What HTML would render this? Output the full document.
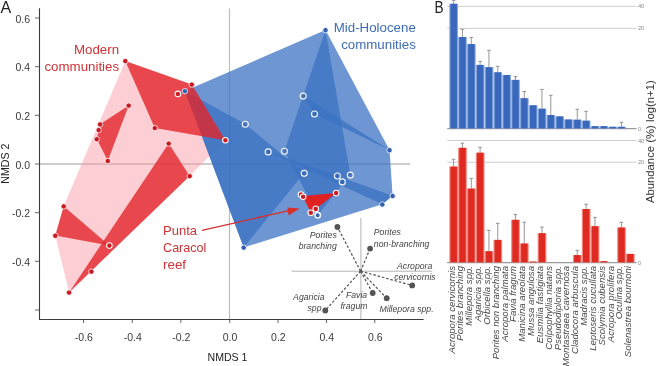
<!DOCTYPE html>
<html><head><meta charset="utf-8"><style>
html,body{margin:0;padding:0;background:#fff;width:658px;height:366px;overflow:hidden}
svg{display:block;will-change:transform}
text{-webkit-font-smoothing:antialiased}
</style></head><body>
<svg width="658" height="366" viewBox="0 0 658 366">
<rect width="658" height="366" fill="#fff"/>
<line x1="39" y1="164" x2="410" y2="164" stroke="#bcbcbc" stroke-width="1.3"/>
<line x1="229.5" y1="8.5" x2="229.5" y2="319" stroke="#bcbcbc" stroke-width="1.2"/>
<polygon points="125.3,60.9 191.8,84.4 225.4,140.2 189.7,175.9 69.1,292.4 55.3,235.6 63.7,206.2" fill="rgba(250,150,162,0.46)" />
<polygon points="184.9,91.0 325.5,30.0 389.5,150.0 392.6,195.8 382.3,204.3 243.7,247.4" fill="rgba(58,113,194,0.74)" />
<polygon points="184.9,91.0 245.3,123.9 304.2,173.0 243.7,247.4" fill="rgba(58,113,194,0.74)" />
<polygon points="325.5,30.0 350.3,174.8 317.7,215.1 284.4,150.9" fill="rgba(58,113,194,0.74)" />
<polygon points="303.2,95.8 389.5,150.0 314.5,113.7" fill="rgba(58,113,194,0.74)" />
<polygon points="268.2,151.6 392.6,195.8 382.3,204.3" fill="rgba(58,113,194,0.74)" />
<polygon points="125.3,60.9 191.8,84.4 225.4,140.2 154.8,127.9" fill="rgba(226,38,42,0.8)" />
<polygon points="100.1,124.2 128.7,105.4 107.8,160.8 96.8,139.0 98.7,129.9" fill="rgba(226,38,42,0.8)" />
<polygon points="168.7,143.4 189.7,175.9 69.1,292.4" fill="rgba(226,38,42,0.8)" />
<polygon points="63.7,206.2 55.3,235.6 109.4,245.6" fill="rgba(226,38,42,0.8)" />
<polygon points="302.5,196.0 336.1,193.1 311.0,212.7" fill="rgba(232,28,24,0.95)" />
<circle cx="125.3" cy="61.1" r="2.7" fill="#c81a22" stroke="#fff" stroke-width="0.9" stroke-opacity="0.85"/>
<circle cx="191.8" cy="84.60000000000001" r="2.7" fill="#c81a22" stroke="#fff" stroke-width="0.9" stroke-opacity="0.85"/>
<circle cx="154.8" cy="128.1" r="2.7" fill="#c81a22" stroke="#fff" stroke-width="0.9" stroke-opacity="0.85"/>
<circle cx="128.7" cy="105.60000000000001" r="2.7" fill="#c81a22" stroke="#fff" stroke-width="0.9" stroke-opacity="0.85"/>
<circle cx="100.1" cy="124.4" r="2.7" fill="#c81a22" stroke="#fff" stroke-width="0.9" stroke-opacity="0.85"/>
<circle cx="98.7" cy="130.1" r="2.7" fill="#c81a22" stroke="#fff" stroke-width="0.9" stroke-opacity="0.85"/>
<circle cx="96.8" cy="139.2" r="2.7" fill="#c81a22" stroke="#fff" stroke-width="0.9" stroke-opacity="0.85"/>
<circle cx="107.8" cy="161.0" r="2.7" fill="#c81a22" stroke="#fff" stroke-width="0.9" stroke-opacity="0.85"/>
<circle cx="168.7" cy="143.6" r="2.7" fill="#c81a22" stroke="#fff" stroke-width="0.9" stroke-opacity="0.85"/>
<circle cx="189.7" cy="176.1" r="2.7" fill="#c81a22" stroke="#fff" stroke-width="0.9" stroke-opacity="0.85"/>
<circle cx="63.7" cy="206.39999999999998" r="2.7" fill="#c81a22" stroke="#fff" stroke-width="0.9" stroke-opacity="0.85"/>
<circle cx="55.3" cy="235.79999999999998" r="2.7" fill="#c81a22" stroke="#fff" stroke-width="0.9" stroke-opacity="0.85"/>
<circle cx="91.4" cy="271.59999999999997" r="2.7" fill="#c81a22" stroke="#fff" stroke-width="0.9" stroke-opacity="0.85"/>
<circle cx="69.1" cy="292.59999999999997" r="2.7" fill="#c81a22" stroke="#fff" stroke-width="0.9" stroke-opacity="0.85"/>
<circle cx="184.9" cy="91.2" r="2.7" fill="#3461ad" stroke="#fff" stroke-width="0.9" stroke-opacity="0.85"/>
<circle cx="325.5" cy="30.2" r="2.7" fill="#3461ad" stroke="#fff" stroke-width="0.9" stroke-opacity="0.85"/>
<circle cx="389.5" cy="150.2" r="2.7" fill="#3461ad" stroke="#fff" stroke-width="0.9" stroke-opacity="0.85"/>
<circle cx="392.6" cy="196.0" r="2.7" fill="#3461ad" stroke="#fff" stroke-width="0.9" stroke-opacity="0.85"/>
<circle cx="382.3" cy="204.5" r="2.7" fill="#3461ad" stroke="#fff" stroke-width="0.9" stroke-opacity="0.85"/>
<circle cx="243.7" cy="247.6" r="2.7" fill="#3461ad" stroke="#fff" stroke-width="0.9" stroke-opacity="0.85"/>
<circle cx="245.3" cy="124.2" r="3.0" fill="rgba(45,80,160,0.35)" stroke="#fff" stroke-width="1.15" stroke-opacity="0.95"/>
<circle cx="268.2" cy="151.9" r="3.0" fill="rgba(45,80,160,0.35)" stroke="#fff" stroke-width="1.15" stroke-opacity="0.95"/>
<circle cx="284.4" cy="151.20000000000002" r="3.0" fill="rgba(45,80,160,0.35)" stroke="#fff" stroke-width="1.15" stroke-opacity="0.95"/>
<circle cx="303.2" cy="96.1" r="3.0" fill="rgba(45,80,160,0.35)" stroke="#fff" stroke-width="1.15" stroke-opacity="0.95"/>
<circle cx="314.5" cy="114.0" r="3.0" fill="rgba(45,80,160,0.35)" stroke="#fff" stroke-width="1.15" stroke-opacity="0.95"/>
<circle cx="304.2" cy="173.3" r="3.0" fill="rgba(45,80,160,0.35)" stroke="#fff" stroke-width="1.15" stroke-opacity="0.95"/>
<circle cx="337.4" cy="176.0" r="3.0" fill="rgba(45,80,160,0.35)" stroke="#fff" stroke-width="1.15" stroke-opacity="0.95"/>
<circle cx="342.3" cy="181.9" r="3.0" fill="rgba(45,80,160,0.35)" stroke="#fff" stroke-width="1.15" stroke-opacity="0.95"/>
<circle cx="350.3" cy="175.10000000000002" r="3.0" fill="rgba(45,80,160,0.35)" stroke="#fff" stroke-width="1.15" stroke-opacity="0.95"/>
<circle cx="317.7" cy="215.2" r="2.7" fill="#3461ad" stroke="#fff" stroke-width="1.4"/>
<circle cx="177.9" cy="93.9" r="2.8" fill="#cc1f24" stroke="#fff" stroke-width="1.05"/>
<circle cx="225.4" cy="140.2" r="2.8" fill="#cc1f24" stroke="#fff" stroke-width="1.05"/>
<circle cx="109.4" cy="245.6" r="2.8" fill="#cc1f24" stroke="#fff" stroke-width="1.05"/>
<circle cx="301" cy="194.6" r="2.8" fill="#cc1f24" stroke="#fff" stroke-width="1.05"/>
<circle cx="303.1" cy="196.7" r="2.8" fill="#cc1f24" stroke="#fff" stroke-width="1.05"/>
<circle cx="336.1" cy="193.1" r="2.8" fill="#cc1f24" stroke="#fff" stroke-width="1.05"/>
<circle cx="315.8" cy="208.9" r="2.8" fill="#cc1f24" stroke="#fff" stroke-width="1.05"/>
<circle cx="310.8" cy="212.7" r="2.8" fill="#cc1f24" stroke="#fff" stroke-width="1.05"/>
<line x1="202" y1="230.4" x2="290" y2="210.4" stroke="#d3302f" stroke-width="1.4"/>
<polygon points="299.6,208.4 287.4,207.5 288.6,215.4" fill="#d9302c"/>
<line x1="291.5" y1="271.2" x2="432.3" y2="271.2" stroke="#aaa" stroke-width="0.9"/>
<line x1="360.9" y1="218" x2="360.9" y2="319" stroke="#aaa" stroke-width="0.9"/>
<line x1="360.6" y1="271.2" x2="337.4" y2="227" stroke="#555" stroke-width="1.2" stroke-dasharray="2.6,1.8"/>
<circle cx="337.4" cy="227" r="2.9" fill="#555"/>
<line x1="360.6" y1="271.2" x2="370.1" y2="248.6" stroke="#555" stroke-width="1.2" stroke-dasharray="2.6,1.8"/>
<circle cx="370.1" cy="248.6" r="2.9" fill="#555"/>
<line x1="360.6" y1="271.2" x2="412.2" y2="285.4" stroke="#555" stroke-width="1.2" stroke-dasharray="2.6,1.8"/>
<circle cx="412.2" cy="285.4" r="2.9" fill="#555"/>
<line x1="360.6" y1="271.2" x2="386.7" y2="298.2" stroke="#555" stroke-width="1.2" stroke-dasharray="2.6,1.8"/>
<circle cx="386.7" cy="298.2" r="2.9" fill="#555"/>
<line x1="360.6" y1="271.2" x2="372.7" y2="293" stroke="#555" stroke-width="1.2" stroke-dasharray="2.6,1.8"/>
<circle cx="372.7" cy="293" r="2.9" fill="#555"/>
<line x1="360.6" y1="271.2" x2="325.3" y2="310.5" stroke="#555" stroke-width="1.2" stroke-dasharray="2.6,1.8"/>
<circle cx="325.3" cy="310.5" r="2.9" fill="#555"/>
<circle cx="360.6" cy="271.2" r="1.3" fill="#555"/>
<text x="336.8" y="238" text-anchor="end" font-family="Liberation Sans" font-style="italic" font-size="8.7" fill="#444">Porites</text>
<text x="336.8" y="249" text-anchor="end" font-family="Liberation Sans" font-style="italic" font-size="8.7" fill="#444">branching</text>
<text x="373.8" y="234.6" text-anchor="start" font-family="Liberation Sans" font-style="italic" font-size="8.7" fill="#444">Porites</text>
<text x="373.8" y="246.8" text-anchor="start" font-family="Liberation Sans" font-style="italic" font-size="8.7" fill="#444">non-branching</text>
<text x="432.3" y="269.3" text-anchor="end" font-family="Liberation Sans" font-style="italic" font-size="8.7" fill="#444">Acropora</text>
<text x="435.7" y="279.9" text-anchor="end" font-family="Liberation Sans" font-style="italic" font-size="8.7" fill="#444">cervicornis</text>
<text x="324.5" y="299.6" text-anchor="end" font-family="Liberation Sans" font-style="italic" font-size="8.7" fill="#444">Agaricia</text>
<text x="321.5" y="310.6" text-anchor="end" font-family="Liberation Sans" font-style="italic" font-size="8.7" fill="#444">spp</text>
<text x="367.2" y="297.7" text-anchor="end" font-family="Liberation Sans" font-style="italic" font-size="8.7" fill="#444">Favia</text>
<text x="367.5" y="308.8" text-anchor="end" font-family="Liberation Sans" font-style="italic" font-size="8.7" fill="#444">fragum</text>
<text x="433.6" y="311.8" text-anchor="end" font-family="Liberation Sans" font-style="italic" font-size="8.7" fill="#444">Millepora spp.</text>
<line x1="39.5" y1="8.2" x2="39.5" y2="320" stroke="#3c3c3c" stroke-width="1.1"/>
<line x1="39" y1="319.5" x2="423.7" y2="319.5" stroke="#3c3c3c" stroke-width="1.1"/>
<line x1="35" y1="18" x2="39.2" y2="18" stroke="#666" stroke-width="1.0"/>
<text x="30.0" y="22.6" text-anchor="end" font-family="Liberation Sans" font-size="10.5" fill="#3a3a3a">0.6</text>
<line x1="35" y1="66.7" x2="39.2" y2="66.7" stroke="#666" stroke-width="1.0"/>
<text x="30.0" y="71.3" text-anchor="end" font-family="Liberation Sans" font-size="10.5" fill="#3a3a3a">0.4</text>
<line x1="35" y1="115.3" x2="39.2" y2="115.3" stroke="#666" stroke-width="1.0"/>
<text x="30.0" y="119.89999999999999" text-anchor="end" font-family="Liberation Sans" font-size="10.5" fill="#3a3a3a">0.2</text>
<line x1="35" y1="164" x2="39.2" y2="164" stroke="#666" stroke-width="1.0"/>
<text x="30.0" y="168.6" text-anchor="end" font-family="Liberation Sans" font-size="10.5" fill="#3a3a3a">0.0</text>
<line x1="35" y1="212.7" x2="39.2" y2="212.7" stroke="#666" stroke-width="1.0"/>
<text x="30.0" y="217.29999999999998" text-anchor="end" font-family="Liberation Sans" font-size="10.5" fill="#3a3a3a">-0.2</text>
<line x1="35" y1="261.3" x2="39.2" y2="261.3" stroke="#666" stroke-width="1.0"/>
<text x="30.0" y="265.90000000000003" text-anchor="end" font-family="Liberation Sans" font-size="10.5" fill="#3a3a3a">-0.4</text>
<line x1="35" y1="310" x2="39.2" y2="310" stroke="#666" stroke-width="1.0"/>
<line x1="83.5" y1="320" x2="83.5" y2="323" stroke="#666" stroke-width="1.0"/>
<text x="83.9" y="340.6" text-anchor="middle" font-family="Liberation Sans" font-size="10.5" fill="#3a3a3a">-0.6</text>
<line x1="132.3" y1="320" x2="132.3" y2="323" stroke="#666" stroke-width="1.0"/>
<text x="132.70000000000002" y="340.6" text-anchor="middle" font-family="Liberation Sans" font-size="10.5" fill="#3a3a3a">-0.4</text>
<line x1="180.8" y1="320" x2="180.8" y2="323" stroke="#666" stroke-width="1.0"/>
<text x="181.20000000000002" y="340.6" text-anchor="middle" font-family="Liberation Sans" font-size="10.5" fill="#3a3a3a">-0.2</text>
<line x1="229.7" y1="320" x2="229.7" y2="323" stroke="#666" stroke-width="1.0"/>
<text x="230.1" y="340.6" text-anchor="middle" font-family="Liberation Sans" font-size="10.5" fill="#3a3a3a">0.0</text>
<line x1="278" y1="320" x2="278" y2="323" stroke="#666" stroke-width="1.0"/>
<text x="278.4" y="340.6" text-anchor="middle" font-family="Liberation Sans" font-size="10.5" fill="#3a3a3a">0.2</text>
<line x1="326.4" y1="320" x2="326.4" y2="323" stroke="#666" stroke-width="1.0"/>
<text x="326.79999999999995" y="340.6" text-anchor="middle" font-family="Liberation Sans" font-size="10.5" fill="#3a3a3a">0.4</text>
<line x1="374.8" y1="320" x2="374.8" y2="323" stroke="#666" stroke-width="1.0"/>
<text x="375.2" y="340.6" text-anchor="middle" font-family="Liberation Sans" font-size="10.5" fill="#3a3a3a">0.6</text>
<text x="227.5" y="361.2" text-anchor="middle" font-family="Liberation Sans" font-size="10.6" fill="#222">NMDS 1</text>
<text transform="translate(9.4,163.7) rotate(-90)" text-anchor="middle" font-family="Liberation Sans" font-size="10.6" fill="#222">NMDS 2</text>
<text x="0.6" y="13.3" font-family="Liberation Sans" font-size="16" fill="#222">A</text>
<text x="119.1" y="54.1" text-anchor="end" font-family="Liberation Sans" font-size="13.3" fill="#cf3236">Modern</text>
<text x="119.1" y="70.5" text-anchor="end" font-family="Liberation Sans" font-size="13.3" fill="#cf3236">communities</text>
<text x="415.8" y="32.2" text-anchor="end" font-family="Liberation Sans" font-size="13.3" fill="#3e6db4">Mid-Holocene</text>
<text x="415.8" y="48.8" text-anchor="end" font-family="Liberation Sans" font-size="13.3" fill="#3e6db4">communities</text>
<text x="163.1" y="235.1" text-anchor="start" font-family="Liberation Sans" font-size="13.3" fill="#cf3236" textLength="34" lengthAdjust="spacingAndGlyphs">Punta</text>
<text x="163.1" y="252.3" text-anchor="start" font-family="Liberation Sans" font-size="13.3" fill="#cf3236" textLength="43.2" lengthAdjust="spacingAndGlyphs">Caracol</text>
<text x="163.1" y="269.2" text-anchor="start" font-family="Liberation Sans" font-size="13.3" fill="#cf3236">reef</text>
<text x="434.6" y="13.3" font-family="Liberation Sans" font-size="16" fill="#222" textLength="9.1" lengthAdjust="spacingAndGlyphs">B</text>
<line x1="447.2" y1="6.4" x2="636.5" y2="6.4" stroke="#c8c8c8" stroke-width="0.9"/>
<line x1="447.2" y1="28.4" x2="636.5" y2="28.4" stroke="#c8c8c8" stroke-width="0.9"/>
<line x1="447.2" y1="140.5" x2="636.5" y2="140.5" stroke="#c8c8c8" stroke-width="0.9"/>
<line x1="447.2" y1="162.2" x2="636.5" y2="162.2" stroke="#c8c8c8" stroke-width="0.9"/>
<line x1="447.2" y1="128.7" x2="636.5" y2="128.7" stroke="#999" stroke-width="1.3"/>
<line x1="447.2" y1="262.6" x2="636.5" y2="262.6" stroke="#999" stroke-width="1.3"/>
<text x="638" y="8.4" text-anchor="start" font-family="Liberation Sans" font-size="5.6" fill="#888">40</text>
<text x="638" y="30.4" text-anchor="start" font-family="Liberation Sans" font-size="5.6" fill="#888">20</text>
<text x="638" y="130.7" text-anchor="start" font-family="Liberation Sans" font-size="5.6" fill="#888">0</text>
<text x="638" y="142.5" text-anchor="start" font-family="Liberation Sans" font-size="5.6" fill="#888">40</text>
<text x="638" y="164.2" text-anchor="start" font-family="Liberation Sans" font-size="5.6" fill="#888">20</text>
<text x="638" y="264.6" text-anchor="start" font-family="Liberation Sans" font-size="5.6" fill="#888">0</text>
<rect x="449.30" y="3.8" width="8.7" height="124.60" fill="#86a8dd"/>
<rect x="450.50" y="3.8" width="6.4" height="124.60" fill="#3867bb"/>
<line x1="453.60" y1="3.8" x2="453.60" y2="0.3" stroke="#8a8a8a" stroke-width="0.9"/>
<line x1="451.80" y1="0.3" x2="455.40" y2="0.3" stroke="#8a8a8a" stroke-width="0.9"/>
<rect x="458.13" y="37" width="8.7" height="91.40" fill="#86a8dd"/>
<rect x="459.33" y="37" width="6.4" height="91.40" fill="#3867bb"/>
<line x1="462.43" y1="37" x2="462.43" y2="29.3" stroke="#8a8a8a" stroke-width="0.9"/>
<line x1="460.63" y1="29.3" x2="464.23" y2="29.3" stroke="#8a8a8a" stroke-width="0.9"/>
<rect x="466.97" y="44.1" width="8.7" height="84.30" fill="#86a8dd"/>
<rect x="468.17" y="44.1" width="6.4" height="84.30" fill="#3867bb"/>
<line x1="471.27" y1="44.1" x2="471.27" y2="37.4" stroke="#8a8a8a" stroke-width="0.9"/>
<line x1="469.47" y1="37.4" x2="473.07" y2="37.4" stroke="#8a8a8a" stroke-width="0.9"/>
<rect x="475.80" y="64.9" width="8.7" height="63.50" fill="#86a8dd"/>
<rect x="477.00" y="64.9" width="6.4" height="63.50" fill="#3867bb"/>
<line x1="480.10" y1="64.9" x2="480.10" y2="61.3" stroke="#8a8a8a" stroke-width="0.9"/>
<line x1="478.30" y1="61.3" x2="481.90" y2="61.3" stroke="#8a8a8a" stroke-width="0.9"/>
<rect x="484.64" y="67.2" width="8.7" height="61.20" fill="#86a8dd"/>
<rect x="485.84" y="67.2" width="6.4" height="61.20" fill="#3867bb"/>
<line x1="488.94" y1="67.2" x2="488.94" y2="50.3" stroke="#8a8a8a" stroke-width="0.9"/>
<line x1="487.14" y1="50.3" x2="490.74" y2="50.3" stroke="#8a8a8a" stroke-width="0.9"/>
<rect x="493.47" y="72.3" width="8.7" height="56.10" fill="#86a8dd"/>
<rect x="494.67" y="72.3" width="6.4" height="56.10" fill="#3867bb"/>
<line x1="497.77" y1="72.3" x2="497.77" y2="66.3" stroke="#8a8a8a" stroke-width="0.9"/>
<line x1="495.97" y1="66.3" x2="499.57" y2="66.3" stroke="#8a8a8a" stroke-width="0.9"/>
<rect x="502.30" y="75" width="8.7" height="53.40" fill="#86a8dd"/>
<rect x="503.50" y="75" width="6.4" height="53.40" fill="#3867bb"/>
<rect x="511.14" y="79.9" width="8.7" height="48.50" fill="#86a8dd"/>
<rect x="512.34" y="79.9" width="6.4" height="48.50" fill="#3867bb"/>
<line x1="515.44" y1="79.9" x2="515.44" y2="76.6" stroke="#8a8a8a" stroke-width="0.9"/>
<line x1="513.64" y1="76.6" x2="517.24" y2="76.6" stroke="#8a8a8a" stroke-width="0.9"/>
<rect x="519.97" y="98.2" width="8.7" height="30.20" fill="#86a8dd"/>
<rect x="521.17" y="98.2" width="6.4" height="30.20" fill="#3867bb"/>
<line x1="524.27" y1="98.2" x2="524.27" y2="91.5" stroke="#8a8a8a" stroke-width="0.9"/>
<line x1="522.47" y1="91.5" x2="526.07" y2="91.5" stroke="#8a8a8a" stroke-width="0.9"/>
<rect x="528.81" y="105.3" width="8.7" height="23.10" fill="#86a8dd"/>
<rect x="530.01" y="105.3" width="6.4" height="23.10" fill="#3867bb"/>
<rect x="537.64" y="108.7" width="8.7" height="19.70" fill="#86a8dd"/>
<rect x="538.84" y="108.7" width="6.4" height="19.70" fill="#3867bb"/>
<line x1="541.94" y1="108.7" x2="541.94" y2="89.4" stroke="#8a8a8a" stroke-width="0.9"/>
<line x1="540.14" y1="89.4" x2="543.74" y2="89.4" stroke="#8a8a8a" stroke-width="0.9"/>
<rect x="546.47" y="115" width="8.7" height="13.40" fill="#86a8dd"/>
<rect x="547.67" y="115" width="6.4" height="13.40" fill="#3867bb"/>
<line x1="550.77" y1="115" x2="550.77" y2="95.3" stroke="#8a8a8a" stroke-width="0.9"/>
<line x1="548.97" y1="95.3" x2="552.57" y2="95.3" stroke="#8a8a8a" stroke-width="0.9"/>
<rect x="555.31" y="116.4" width="8.7" height="12.00" fill="#86a8dd"/>
<rect x="556.51" y="116.4" width="6.4" height="12.00" fill="#3867bb"/>
<rect x="564.14" y="119.5" width="8.7" height="8.90" fill="#86a8dd"/>
<rect x="565.34" y="119.5" width="6.4" height="8.90" fill="#3867bb"/>
<rect x="572.98" y="119.7" width="8.7" height="8.70" fill="#86a8dd"/>
<rect x="574.18" y="119.7" width="6.4" height="8.70" fill="#3867bb"/>
<line x1="577.28" y1="119.7" x2="577.28" y2="109.3" stroke="#8a8a8a" stroke-width="0.9"/>
<line x1="575.48" y1="109.3" x2="579.08" y2="109.3" stroke="#8a8a8a" stroke-width="0.9"/>
<rect x="581.81" y="120.7" width="8.7" height="7.70" fill="#86a8dd"/>
<rect x="583.01" y="120.7" width="6.4" height="7.70" fill="#3867bb"/>
<line x1="586.11" y1="120.7" x2="586.11" y2="111.3" stroke="#8a8a8a" stroke-width="0.9"/>
<line x1="584.31" y1="111.3" x2="587.91" y2="111.3" stroke="#8a8a8a" stroke-width="0.9"/>
<rect x="590.64" y="126.2" width="8.7" height="2.20" fill="#86a8dd"/>
<rect x="591.84" y="126.2" width="6.4" height="2.20" fill="#3867bb"/>
<rect x="599.48" y="126.2" width="8.7" height="2.20" fill="#86a8dd"/>
<rect x="600.68" y="126.2" width="6.4" height="2.20" fill="#3867bb"/>
<rect x="608.31" y="126.8" width="8.7" height="1.60" fill="#86a8dd"/>
<rect x="609.51" y="126.8" width="6.4" height="1.60" fill="#3867bb"/>
<rect x="617.15" y="126.8" width="8.7" height="1.60" fill="#86a8dd"/>
<rect x="618.35" y="126.8" width="6.4" height="1.60" fill="#3867bb"/>
<line x1="621.45" y1="126.8" x2="621.45" y2="122.4" stroke="#8a8a8a" stroke-width="0.9"/>
<line x1="619.65" y1="122.4" x2="623.25" y2="122.4" stroke="#8a8a8a" stroke-width="0.9"/>
<rect x="449.30" y="166.6" width="8.7" height="95.70" fill="#f5857c"/>
<rect x="450.50" y="166.6" width="6.4" height="95.70" fill="#de2a21"/>
<line x1="453.60" y1="166.6" x2="453.60" y2="159.3" stroke="#8a8a8a" stroke-width="0.9"/>
<line x1="451.80" y1="159.3" x2="455.40" y2="159.3" stroke="#8a8a8a" stroke-width="0.9"/>
<rect x="458.13" y="147.8" width="8.7" height="114.50" fill="#f5857c"/>
<rect x="459.33" y="147.8" width="6.4" height="114.50" fill="#de2a21"/>
<line x1="462.43" y1="147.8" x2="462.43" y2="143.2" stroke="#8a8a8a" stroke-width="0.9"/>
<line x1="460.63" y1="143.2" x2="464.23" y2="143.2" stroke="#8a8a8a" stroke-width="0.9"/>
<rect x="466.97" y="188.6" width="8.7" height="73.70" fill="#f5857c"/>
<rect x="468.17" y="188.6" width="6.4" height="73.70" fill="#de2a21"/>
<line x1="471.27" y1="188.6" x2="471.27" y2="178.4" stroke="#8a8a8a" stroke-width="0.9"/>
<line x1="469.47" y1="178.4" x2="473.07" y2="178.4" stroke="#8a8a8a" stroke-width="0.9"/>
<rect x="475.80" y="152.7" width="8.7" height="109.60" fill="#f5857c"/>
<rect x="477.00" y="152.7" width="6.4" height="109.60" fill="#de2a21"/>
<line x1="480.10" y1="152.7" x2="480.10" y2="147.3" stroke="#8a8a8a" stroke-width="0.9"/>
<line x1="478.30" y1="147.3" x2="481.90" y2="147.3" stroke="#8a8a8a" stroke-width="0.9"/>
<rect x="484.64" y="251.2" width="8.7" height="11.10" fill="#f5857c"/>
<rect x="485.84" y="251.2" width="6.4" height="11.10" fill="#de2a21"/>
<line x1="488.94" y1="251.2" x2="488.94" y2="230.4" stroke="#8a8a8a" stroke-width="0.9"/>
<line x1="487.14" y1="230.4" x2="490.74" y2="230.4" stroke="#8a8a8a" stroke-width="0.9"/>
<rect x="493.47" y="239.9" width="8.7" height="22.40" fill="#f5857c"/>
<rect x="494.67" y="239.9" width="6.4" height="22.40" fill="#de2a21"/>
<line x1="497.77" y1="239.9" x2="497.77" y2="223.4" stroke="#8a8a8a" stroke-width="0.9"/>
<line x1="495.97" y1="223.4" x2="499.57" y2="223.4" stroke="#8a8a8a" stroke-width="0.9"/>
<rect x="511.14" y="219.8" width="8.7" height="42.50" fill="#f5857c"/>
<rect x="512.34" y="219.8" width="6.4" height="42.50" fill="#de2a21"/>
<line x1="515.44" y1="219.8" x2="515.44" y2="214.5" stroke="#8a8a8a" stroke-width="0.9"/>
<line x1="513.64" y1="214.5" x2="517.24" y2="214.5" stroke="#8a8a8a" stroke-width="0.9"/>
<rect x="519.97" y="243.5" width="8.7" height="18.80" fill="#f5857c"/>
<rect x="521.17" y="243.5" width="6.4" height="18.80" fill="#de2a21"/>
<line x1="524.27" y1="243.5" x2="524.27" y2="222.2" stroke="#8a8a8a" stroke-width="0.9"/>
<line x1="522.47" y1="222.2" x2="526.07" y2="222.2" stroke="#8a8a8a" stroke-width="0.9"/>
<rect x="528.81" y="261.6" width="8.7" height="0.70" fill="#f5857c"/>
<rect x="530.01" y="261.6" width="6.4" height="0.70" fill="#de2a21"/>
<rect x="537.64" y="233.2" width="8.7" height="29.10" fill="#f5857c"/>
<rect x="538.84" y="233.2" width="6.4" height="29.10" fill="#de2a21"/>
<line x1="541.94" y1="233.2" x2="541.94" y2="227.1" stroke="#8a8a8a" stroke-width="0.9"/>
<line x1="540.14" y1="227.1" x2="543.74" y2="227.1" stroke="#8a8a8a" stroke-width="0.9"/>
<rect x="572.98" y="255.1" width="8.7" height="7.20" fill="#f5857c"/>
<rect x="574.18" y="255.1" width="6.4" height="7.20" fill="#de2a21"/>
<line x1="577.28" y1="255.1" x2="577.28" y2="250.3" stroke="#8a8a8a" stroke-width="0.9"/>
<line x1="575.48" y1="250.3" x2="579.08" y2="250.3" stroke="#8a8a8a" stroke-width="0.9"/>
<rect x="581.81" y="209" width="8.7" height="53.30" fill="#f5857c"/>
<rect x="583.01" y="209" width="6.4" height="53.30" fill="#de2a21"/>
<line x1="586.11" y1="209" x2="586.11" y2="204.2" stroke="#8a8a8a" stroke-width="0.9"/>
<line x1="584.31" y1="204.2" x2="587.91" y2="204.2" stroke="#8a8a8a" stroke-width="0.9"/>
<rect x="590.64" y="226.2" width="8.7" height="36.10" fill="#f5857c"/>
<rect x="591.84" y="226.2" width="6.4" height="36.10" fill="#de2a21"/>
<line x1="594.94" y1="226.2" x2="594.94" y2="217.4" stroke="#8a8a8a" stroke-width="0.9"/>
<line x1="593.14" y1="217.4" x2="596.74" y2="217.4" stroke="#8a8a8a" stroke-width="0.9"/>
<rect x="599.48" y="261.2" width="8.7" height="1.10" fill="#f5857c"/>
<rect x="600.68" y="261.2" width="6.4" height="1.10" fill="#de2a21"/>
<rect x="617.15" y="227.5" width="8.7" height="34.80" fill="#f5857c"/>
<rect x="618.35" y="227.5" width="6.4" height="34.80" fill="#de2a21"/>
<line x1="621.45" y1="227.5" x2="621.45" y2="222.3" stroke="#8a8a8a" stroke-width="0.9"/>
<line x1="619.65" y1="222.3" x2="623.25" y2="222.3" stroke="#8a8a8a" stroke-width="0.9"/>
<rect x="625.98" y="253.9" width="8.7" height="8.40" fill="#f5857c"/>
<rect x="627.18" y="253.9" width="6.4" height="8.40" fill="#de2a21"/>
<text transform="translate(454.50,266) rotate(-90)" text-anchor="end" font-family="Liberation Sans" font-style="italic" font-size="9.6" fill="#474747">Acropora cervicornis</text>
<text transform="translate(463.33,266) rotate(-90)" text-anchor="end" font-family="Liberation Sans" font-style="italic" font-size="9.6" fill="#474747">Porites branching</text>
<text transform="translate(472.17,266) rotate(-90)" text-anchor="end" font-family="Liberation Sans" font-style="italic" font-size="9.6" fill="#474747">Millepora spp.</text>
<text transform="translate(481.00,266) rotate(-90)" text-anchor="end" font-family="Liberation Sans" font-style="italic" font-size="9.6" fill="#474747">Agaricia spp.</text>
<text transform="translate(489.84,266) rotate(-90)" text-anchor="end" font-family="Liberation Sans" font-style="italic" font-size="9.6" fill="#474747">Orbicella spp.</text>
<text transform="translate(498.67,266) rotate(-90)" text-anchor="end" font-family="Liberation Sans" font-style="italic" font-size="9.6" fill="#474747">Porites non branching</text>
<text transform="translate(507.50,266) rotate(-90)" text-anchor="end" font-family="Liberation Sans" font-style="italic" font-size="9.6" fill="#474747">Acropora palmata</text>
<text transform="translate(516.34,266) rotate(-90)" text-anchor="end" font-family="Liberation Sans" font-style="italic" font-size="9.6" fill="#474747">Favia fragum</text>
<text transform="translate(525.17,266) rotate(-90)" text-anchor="end" font-family="Liberation Sans" font-style="italic" font-size="9.6" fill="#474747">Manicina areolata</text>
<text transform="translate(534.01,266) rotate(-90)" text-anchor="end" font-family="Liberation Sans" font-style="italic" font-size="9.6" fill="#474747">Mussa angulosa</text>
<text transform="translate(542.84,266) rotate(-90)" text-anchor="end" font-family="Liberation Sans" font-style="italic" font-size="9.6" fill="#474747">Eusmilia fastigiata</text>
<text transform="translate(551.67,266) rotate(-90)" text-anchor="end" font-family="Liberation Sans" font-style="italic" font-size="9.6" fill="#474747">Colpophyllia natans</text>
<text transform="translate(560.51,266) rotate(-90)" text-anchor="end" font-family="Liberation Sans" font-style="italic" font-size="9.6" fill="#474747">Pseudodiploria spp.</text>
<text transform="translate(569.34,266) rotate(-90)" text-anchor="end" font-family="Liberation Sans" font-style="italic" font-size="9.6" fill="#474747">Montastraea cavernosa</text>
<text transform="translate(578.18,266) rotate(-90)" text-anchor="end" font-family="Liberation Sans" font-style="italic" font-size="9.6" fill="#474747">Cladocora arbuscula</text>
<text transform="translate(587.01,266) rotate(-90)" text-anchor="end" font-family="Liberation Sans" font-style="italic" font-size="9.6" fill="#474747">Madracis spp.</text>
<text transform="translate(595.84,266) rotate(-90)" text-anchor="end" font-family="Liberation Sans" font-style="italic" font-size="9.6" fill="#474747">Leptoseris cucullata</text>
<text transform="translate(604.68,266) rotate(-90)" text-anchor="end" font-family="Liberation Sans" font-style="italic" font-size="9.6" fill="#474747">Scolymia cubensis</text>
<text transform="translate(613.51,266) rotate(-90)" text-anchor="end" font-family="Liberation Sans" font-style="italic" font-size="9.6" fill="#474747">Acropora prolifera</text>
<text transform="translate(622.35,266) rotate(-90)" text-anchor="end" font-family="Liberation Sans" font-style="italic" font-size="9.6" fill="#474747">Oculina spp.</text>
<text transform="translate(631.18,266) rotate(-90)" text-anchor="end" font-family="Liberation Sans" font-style="italic" font-size="9.6" fill="#474747">Solenastrea bournoni</text>
<text transform="translate(654.3,141.7) rotate(-90)" text-anchor="middle" font-family="Liberation Sans" font-size="11.3" fill="#303030">Abundance (%) log(n+1)</text>
</svg>
</body></html>
